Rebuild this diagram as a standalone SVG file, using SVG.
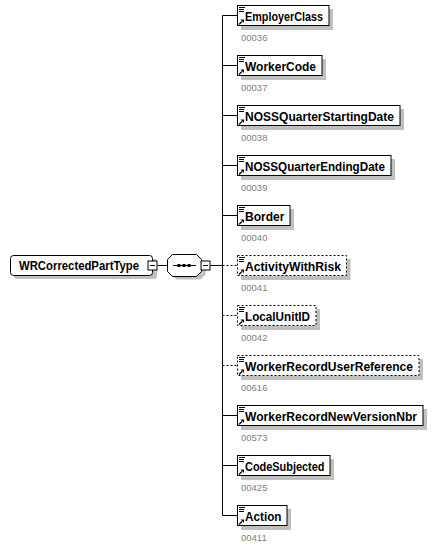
<svg xmlns="http://www.w3.org/2000/svg" xmlns:xlink="http://www.w3.org/1999/xlink" width="439" height="548" viewBox="0 0 439 548">
<style>
.box{fill:#fff;stroke:#000;stroke-width:1}
.opt{stroke-dasharray:2 2}
.shadow{fill:#c0c0c0;stroke:none}
.name{font-family:"Liberation Sans",Arial,sans-serif;font-weight:bold;font-size:13px;fill:#000}
.num{font-family:"Liberation Sans",Arial,sans-serif;font-size:9.5px;fill:#808080}
.line{stroke:#000;stroke-width:1;fill:none}
</style>
<defs>
<g id="icon">
<path d="M2,2.5H8M2,4.5H7M2,6.5H7" stroke="#000" stroke-width="1" fill="none"/>
<path d="M2,19.5L5,16.5" stroke="#000" stroke-width="1.3" fill="none"/>
<path d="M3.5,14.5L7,14.5L7,18Z" fill="#000"/>
</g>
<g id="minus">
<rect x="0.5" y="0.5" width="9" height="9" fill="#fff" stroke="#000"/>
<path d="M2.5,5H7.5" stroke="#000"/>
</g>
</defs>
<g id="connectors">
<path class="line" d="M157.5,265.5H167.5"/>
<path class="line" d="M210.5,265.5H222.5"/>
<path class="line" d="M222.5,15.5V515.5"/>
<path class="line" d="M222.5,15.5H237M222.5,65.5H237M222.5,115.5H237M222.5,165.5H237M222.5,215.5H237M222.5,415.5H237M222.5,465.5H237M222.5,515.5H237"/>
<path class="line opt" d="M222.5,265.5H237M222.5,315.5H237M222.5,365.5H237"/>
</g>
<g id="WRCorrectedPartType">
<rect class="shadow" x="14" y="259" width="143" height="20" rx="3"/>
<rect class="box" x="10.5" y="255.5" width="142" height="20" rx="3"/>
<text class="name" x="19" y="270" textLength="120" lengthAdjust="spacingAndGlyphs">WRCorrectedPartType</text>
<use xlink:href="#minus" x="147.5" y="260.5"/>
</g>
<g id="sequence">
<polygon class="shadow" points="176.5,258.5 200.5,258.5 205.5,263.5 205.5,274.5 200.5,279.5 176.5,279.5 171.5,274.5 171.5,263.5"/>
<polygon class="box" points="172.5,254.5 196.5,254.5 201.5,259.5 201.5,271.5 196.5,276.5 172.5,276.5 167.5,271.5 167.5,259.5"/>
<path class="line" d="M173,265.5H196"/>
<rect x="177.5" y="264" width="3" height="3" fill="#000"/>
<rect x="182.5" y="264" width="3" height="3" fill="#000"/>
<rect x="187.5" y="264" width="3" height="3" fill="#000"/>
<use xlink:href="#minus" x="200.5" y="260.5"/>
</g>
<g id="EmployerClass" transform="translate(237,5)">
<rect class="shadow" x="4" y="4" width="92" height="21"/>
<rect class="box" x="0.5" y="0.5" width="91.5" height="20"/>
<use xlink:href="#icon"/>
<text class="name" x="8" y="15.5" textLength="78" lengthAdjust="spacingAndGlyphs">EmployerClass</text>
<text class="num" x="4" y="35.5">00036</text>
</g>
<g id="WorkerCode" transform="translate(237,55)">
<rect class="shadow" x="4" y="4" width="85" height="21"/>
<rect class="box" x="0.5" y="0.5" width="84.5" height="20"/>
<use xlink:href="#icon"/>
<text class="name" x="8" y="15.5" textLength="71" lengthAdjust="spacingAndGlyphs">WorkerCode</text>
<text class="num" x="4" y="35.5">00037</text>
</g>
<g id="NOSSQuarterStartingDate" transform="translate(237,105)">
<rect class="shadow" x="4" y="4" width="163" height="21"/>
<rect class="box" x="0.5" y="0.5" width="162.5" height="20"/>
<use xlink:href="#icon"/>
<text class="name" x="8" y="15.5" textLength="149" lengthAdjust="spacingAndGlyphs">NOSSQuarterStartingDate</text>
<text class="num" x="4" y="35.5">00038</text>
</g>
<g id="NOSSQuarterEndingDate" transform="translate(237,155)">
<rect class="shadow" x="4" y="4" width="154" height="21"/>
<rect class="box" x="0.5" y="0.5" width="153.5" height="20"/>
<use xlink:href="#icon"/>
<text class="name" x="8" y="15.5" textLength="140" lengthAdjust="spacingAndGlyphs">NOSSQuarterEndingDate</text>
<text class="num" x="4" y="35.5">00039</text>
</g>
<g id="Border" transform="translate(237,205)">
<rect class="shadow" x="4" y="4" width="53" height="21"/>
<rect class="box" x="0.5" y="0.5" width="52.5" height="20"/>
<use xlink:href="#icon"/>
<text class="name" x="8" y="15.5" textLength="39.5" lengthAdjust="spacingAndGlyphs">Border</text>
<text class="num" x="4" y="35.5">00040</text>
</g>
<g id="ActivityWithRisk" transform="translate(237,255)">
<rect class="shadow" x="4" y="4" width="109.5" height="21"/>
<rect class="box opt" x="0.5" y="0.5" width="109" height="20"/>
<use xlink:href="#icon"/>
<text class="name" x="8" y="15.5" textLength="96" lengthAdjust="spacingAndGlyphs">ActivityWithRisk</text>
<text class="num" x="4" y="35.5">00041</text>
</g>
<g id="LocalUnitID" transform="translate(237,305)">
<rect class="shadow" x="4" y="4" width="79" height="21"/>
<rect class="box opt" x="0.5" y="0.5" width="78.5" height="20"/>
<use xlink:href="#icon"/>
<text class="name" x="8" y="15.5" textLength="65" lengthAdjust="spacingAndGlyphs">LocalUnitID</text>
<text class="num" x="4" y="35.5">00042</text>
</g>
<g id="WorkerRecordUserReference" transform="translate(237,355)">
<rect class="shadow" x="4" y="4" width="182" height="21"/>
<rect class="box opt" x="0.5" y="0.5" width="181.5" height="20"/>
<use xlink:href="#icon"/>
<text class="name" x="8" y="15.5" textLength="168" lengthAdjust="spacingAndGlyphs">WorkerRecordUserReference</text>
<text class="num" x="4" y="35.5">00616</text>
</g>
<g id="WorkerRecordNewVersionNbr" transform="translate(237,405)">
<rect class="shadow" x="4" y="4" width="186" height="21"/>
<rect class="box" x="0.5" y="0.5" width="185.5" height="20"/>
<use xlink:href="#icon"/>
<text class="name" x="8" y="15.5" textLength="172" lengthAdjust="spacingAndGlyphs">WorkerRecordNewVersionNbr</text>
<text class="num" x="4" y="35.5">00573</text>
</g>
<g id="CodeSubjected" transform="translate(237,455)">
<rect class="shadow" x="4" y="4" width="93" height="21"/>
<rect class="box" x="0.5" y="0.5" width="92.5" height="20"/>
<use xlink:href="#icon"/>
<text class="name" x="8" y="15.5" textLength="79.5" lengthAdjust="spacingAndGlyphs">CodeSubjected</text>
<text class="num" x="4" y="35.5">00425</text>
</g>
<g id="Action" transform="translate(237,505)">
<rect class="shadow" x="4" y="4" width="50" height="21"/>
<rect class="box" x="0.5" y="0.5" width="49.5" height="20"/>
<use xlink:href="#icon"/>
<text class="name" x="8" y="15.5" textLength="36.5" lengthAdjust="spacingAndGlyphs">Action</text>
<text class="num" x="4" y="35.5">00411</text>
</g>
</svg>
